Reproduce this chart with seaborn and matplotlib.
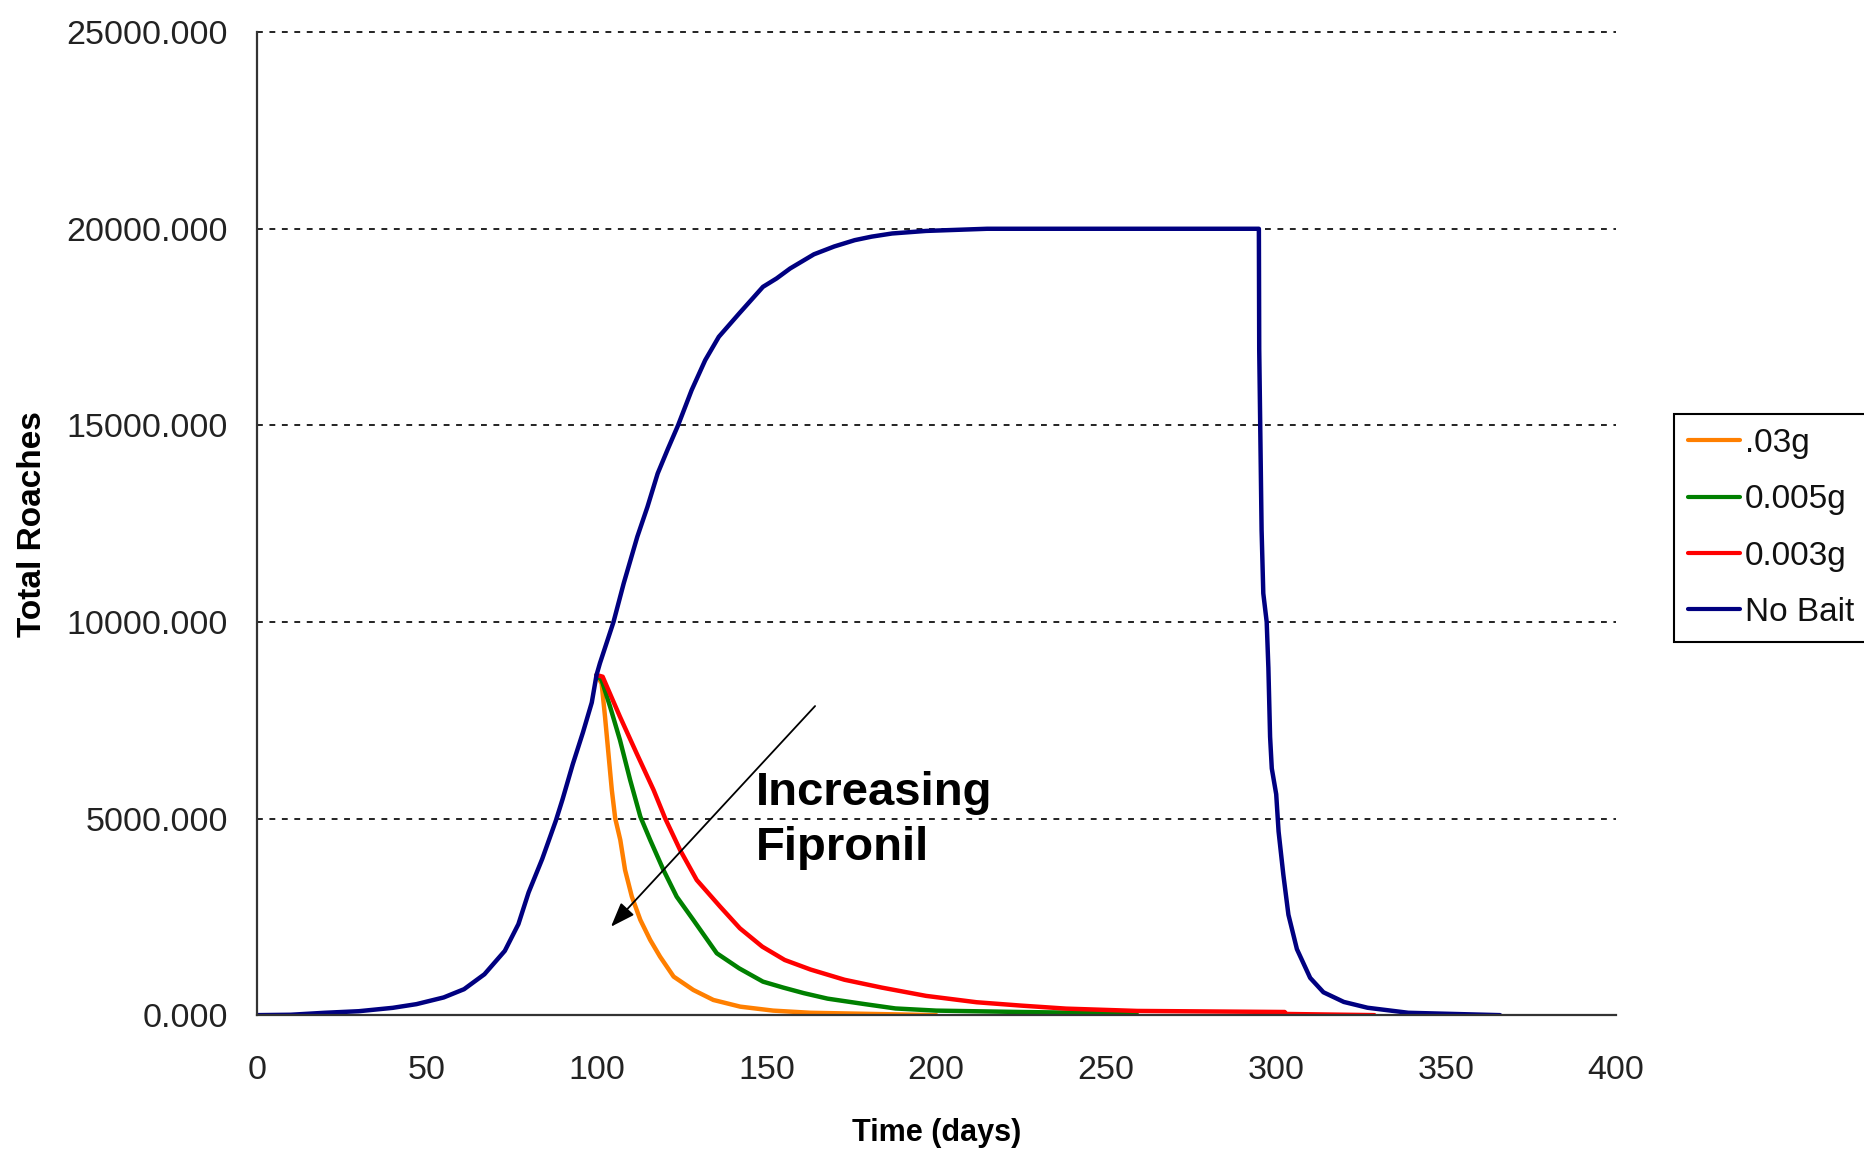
import matplotlib
matplotlib.use("Agg")
import matplotlib.pyplot as plt
from matplotlib.ticker import FormatStrFormatter
import seaborn as sns
import pandas as pd

# ---- data ----
series_names = [".03g", "0.005g", "0.003g", "No Bait"]
series_colors = ["#FF7F00", "#008000", "#FF0000", "#000080"]

nobait_days = [0, 10, 20, 30, 40, 47, 55, 61, 67, 73, 77, 80, 84, 88, 90, 93, 96, 98.6,
               100, 101, 105, 108, 112, 115, 118, 121, 124, 128, 132, 136, 142, 149, 153,
               157, 164, 170, 176, 181, 187, 197, 215, 295, 295.1, 295.8, 296.3, 297.3,
               297.8, 298.3, 298.8, 300.1, 300.8, 302.2, 303.7, 306.2, 310.1, 314, 320,
               327, 339, 366]
nobait_vals = [0, 10, 60, 100, 186, 280, 450, 660, 1040, 1635, 2315, 3120, 3970, 4940, 5490,
               6380, 7190, 7950, 8650, 8950, 10000, 10981, 12166, 12929, 13776, 14400, 15000,
               15896, 16659, 17252, 17846, 18523, 18736, 18990, 19350, 19550, 19710, 19800,
               19880, 19945, 20000, 20000, 16931, 12332, 10727, 10000, 8828, 7079, 6275,
               5619, 4671, 3574, 2553, 1678, 948, 582, 336, 188, 60, 0]

g03_days = [100, 101.5, 102.5, 103.5, 104.5, 105.5, 107, 108.4, 110.4, 112.9, 115.8, 118.7,
            122.7, 128.5, 134.4, 142.3, 152, 163, 200]
g03_vals = [8650, 8438, 7590, 6659, 5726, 5006, 4454, 3692, 3013, 2421, 1912, 1488, 980, 640,
            386, 216, 115, 60, 0]

g005_days = [100, 101.5, 104, 106.9, 109.9, 112.9, 115.8, 119.7, 123.6, 128.5, 135.4, 142,
             149, 155, 161, 168, 179, 188, 200, 225, 259]
g005_vals = [8650, 8523, 7844, 6997, 5980, 5048, 4454, 3692, 3013, 2421, 1574, 1190, 852, 700,
             560, 420, 280, 170, 115, 80, 40]

g003_days = [100, 101.8, 106.9, 111.8, 116.8, 120.2, 124.6, 129.5, 136.4, 142.2, 148.8, 155.4,
             163, 173, 184, 197, 211.9, 225.1, 238.2, 259.2, 302.6, 303, 329]
g003_vals = [8650, 8608, 7590, 6659, 5726, 5006, 4200, 3437, 2759, 2209, 1742, 1403, 1160, 900,
             700, 490, 328, 242, 166, 107, 80, 30, 0]

x_ticks = [0, 50, 100, 150, 200, 250, 300, 350, 400]
y_ticks = [0, 5000, 10000, 15000, 20000, 25000]

frames = []
for name, d, v in [(".03g", g03_days, g03_vals), ("0.005g", g005_days, g005_vals),
                   ("0.003g", g003_days, g003_vals), ("No Bait", nobait_days, nobait_vals)]:
    frames.append(pd.DataFrame({"day": d, "roaches": v, "series": name}))
df = pd.concat(frames, ignore_index=True)

# ---- styling ----
sns.set_style("white")
plt.rcParams["font.family"] = ["Liberation Sans", "DejaVu Sans"]
plt.rcParams["text.color"] = "black"

fig = plt.figure(figsize=(18.64, 11.49), dpi=100)
ax = fig.add_axes([0.1378, 0.1165, 0.7289, 0.8555])

sns.lineplot(data=df, x="day", y="roaches", hue="series", hue_order=series_names,
             palette=dict(zip(series_names, series_colors)), estimator=None, sort=False,
             units="series", linewidth=3.2, ax=ax)

ax.set_xlim(0, 400)
ax.set_ylim(0, 25000)
ax.set_xticks(x_ticks)
ax.set_yticks(y_ticks)
ax.yaxis.set_major_formatter(FormatStrFormatter("%.3f"))

ax.yaxis.grid(True, color="#222222", linestyle=(0, (3, 3.4)), linewidth=1.4)
ax.xaxis.grid(False)
ax.set_axisbelow(True)
for gl in ax.get_ygridlines():
    gl.set_clip_on(False)

sns.despine(ax=ax)
for sp in ["left", "bottom"]:
    ax.spines[sp].set_color("#333333")
    ax.spines[sp].set_linewidth(1.6)

ax.tick_params(axis="both", direction="out", length=8, width=1.4, color="#333333",
               labelsize=24.5, labelcolor="#222222")
ax.tick_params(axis="y", pad=13)
ax.tick_params(axis="x", pad=21)

ax.set_xlabel("Time (days)", fontsize=22, fontweight="bold", color="black")
ax.set_ylabel("Total Roaches", fontsize=24, fontweight="bold", color="black")
ax.xaxis.set_label_coords(0.5, -0.105)
ax.yaxis.set_label_coords(-0.1536, 0.5)

ax.annotate("", xy=(103.7, 2197), xytext=(164.9, 7913),
            arrowprops=dict(arrowstyle="-|>,head_length=0.6,head_width=0.22",
                            color="black", lw=1.3, mutation_scale=25))
ax.text(147, 6200, "Increasing\nFipronil", fontsize=34, fontweight="bold", color="black",
        ha="left", va="top", linespacing=1.3)

handles, labels = ax.get_legend_handles_labels()
leg = ax.legend(handles, labels, loc="upper left", bbox_to_anchor=(0.898, 0.6397),
                bbox_transform=fig.transFigure, fontsize=24, frameon=True, fancybox=False,
                framealpha=1, edgecolor="black", borderaxespad=0, borderpad=0.42,
                handlelength=1.55, handletextpad=0.15, labelspacing=0.76)
leg.get_frame().set_linewidth(1.5)
for line in leg.get_lines():
    line.set_linewidth(3)
for t in leg.get_texts():
    t.set_color("#111111")

fig.savefig("out.png", dpi=100)
